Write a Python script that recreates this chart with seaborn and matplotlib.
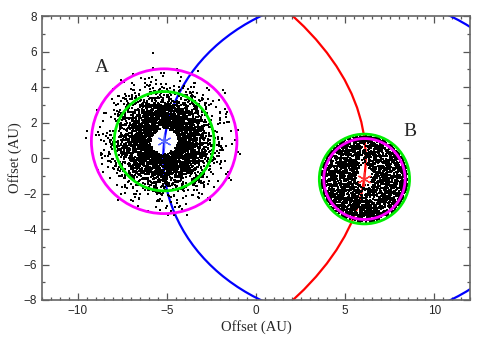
import numpy as np
import pandas as pd
import matplotlib
matplotlib.use("Agg")
import matplotlib.pyplot as plt
from matplotlib.patches import Ellipse, Circle
from matplotlib.ticker import MultipleLocator
import seaborn as sns

# ---- data ----
# cluster centres (AU) and radial extent of the point clouds
cluster_names = ["A", "B"]
cluster_cx = [-5.15, 6.08]
cluster_cy = [0.95, -1.18]
cluster_n = [3800, 2600]
cluster_hole = [0.8, 0.55]
cluster_scale = [1.3, 2.45]    # Rayleigh sigma for A, disc edge for B
cluster_rmax = [4.4, 2.45]
outlier_x = [-5.8]
outlier_y = [5.95]

# circles around each component
green_r = [2.80, 2.53]
magenta_r = [4.08, 2.28]

# large orbit-like arcs: centre x, centre y, semi-axis x, semi-axis y
blue_arc = [5.585, 0.0, 10.785, 9.2]
red_arc = [-26.35, 0.0, 32.5, 16.5]

label_x = [-8.62, 8.62]
label_y = [5.13, 1.52]

# ---- build point clouds (unreadable individually: seeded sample with read parameters) ----
rng = np.random.default_rng(7)
xs, ys = [], []
# A: annulus with Gaussian fall-off
n = cluster_n[0]
r = cluster_scale[0] * np.sqrt(-2 * np.log(rng.random(n * 3)))
keep = (r > cluster_hole[0] * (0.85 + 0.3 * rng.random(r.size))) & (r < cluster_rmax[0])
r = r[keep][:n]
t = rng.random(r.size) * 2 * np.pi
xs.append(cluster_cx[0] + r * np.cos(t)); ys.append(cluster_cy[0] + r * np.sin(t))
# B: filled disc with small central hole
n = cluster_n[1]
r = cluster_scale[1] * np.sqrt(rng.random(n * 2))
t = rng.random(r.size) * 2 * np.pi
dx, dy = r * np.cos(t), r * np.sin(t)
hole = np.hypot(dx * 1.3, (dy - 0.2) * 0.8) < cluster_hole[1] * (0.7 + 0.6 * rng.random(r.size))
dx, dy = dx[~hole][:n], dy[~hole][:n]
xs.append(cluster_cx[1] + dx); ys.append(cluster_cy[1] + dy)
xs.append(np.array(outlier_x)); ys.append(np.array(outlier_y))
df = pd.DataFrame({"x": np.concatenate(xs), "y": np.concatenate(ys)})

# ---- figure ----
sns.set_style("ticks")
plt.rcParams["font.family"] = ["Liberation Sans", "DejaVu Sans"]
fig = plt.figure(figsize=(4.8, 3.51), dpi=100)
ax = fig.add_axes([0.0875, 0.1453, 0.8917, 0.8087])

ax.add_patch(Ellipse((blue_arc[0], blue_arc[1]), 2 * blue_arc[2], 2 * blue_arc[3],
                     fill=False, ec="#0000ff", lw=1.6, zorder=1))
ax.add_patch(Ellipse((red_arc[0], red_arc[1]), 2 * red_arc[2], 2 * red_arc[3],
                     fill=False, ec="#ff0000", lw=1.6, zorder=1))

sns.scatterplot(data=df, x="x", y="y", ax=ax, s=3.5, marker="s", color="black",
                linewidth=0, zorder=2, legend=False)

for cx, cy, gr, mr in zip(cluster_cx, cluster_cy, green_r, magenta_r):
    ax.add_patch(Circle((cx, cy), gr, fill=False, ec="#00ee00", lw=2.0, zorder=3))
    ax.add_patch(Circle((cx, cy), mr, fill=False, ec="#ff00ff", lw=2.0, zorder=3))

ax.plot([cluster_cx[0]], [cluster_cy[0]], marker=(6, 2, 0), ms=10, mec="#5566ff", mew=0.9,
        ls="none", zorder=4)
ax.plot([cluster_cx[1]], [cluster_cy[1]], marker=(6, 2, 0), ms=10, mec="#ff3333", mew=0.9,
        ls="none", zorder=4)

for name, lx, ly in zip(cluster_names, label_x, label_y):
    ax.text(lx, ly, name, fontsize=14, family=["Liberation Serif"], ha="center",
            va="center", zorder=5)

ax.set_xlim(-12, 12)
ax.set_ylim(-8, 8)
ax.xaxis.set_major_locator(MultipleLocator(5))
ax.xaxis.set_minor_locator(MultipleLocator(0.5))
ax.yaxis.set_major_locator(MultipleLocator(2))
ax.yaxis.set_minor_locator(MultipleLocator(1))
ax.tick_params(which="both", direction="in", top=True, right=True, color="#555555",
               labelsize=8.5, width=0.9)
ax.tick_params(which="major", length=5)
ax.tick_params(which="minor", length=2.5)
for sp in ax.spines.values():
    sp.set_color("#666666")
    sp.set_linewidth(1.2)
ax.set_xlabel("Offset (AU)", family=["Liberation Serif"], fontsize=10.5, labelpad=2)
ax.set_ylabel("Offset (AU)", family=["Liberation Serif"], fontsize=10.5, labelpad=1)

fig.savefig("out.png", dpi=100)
